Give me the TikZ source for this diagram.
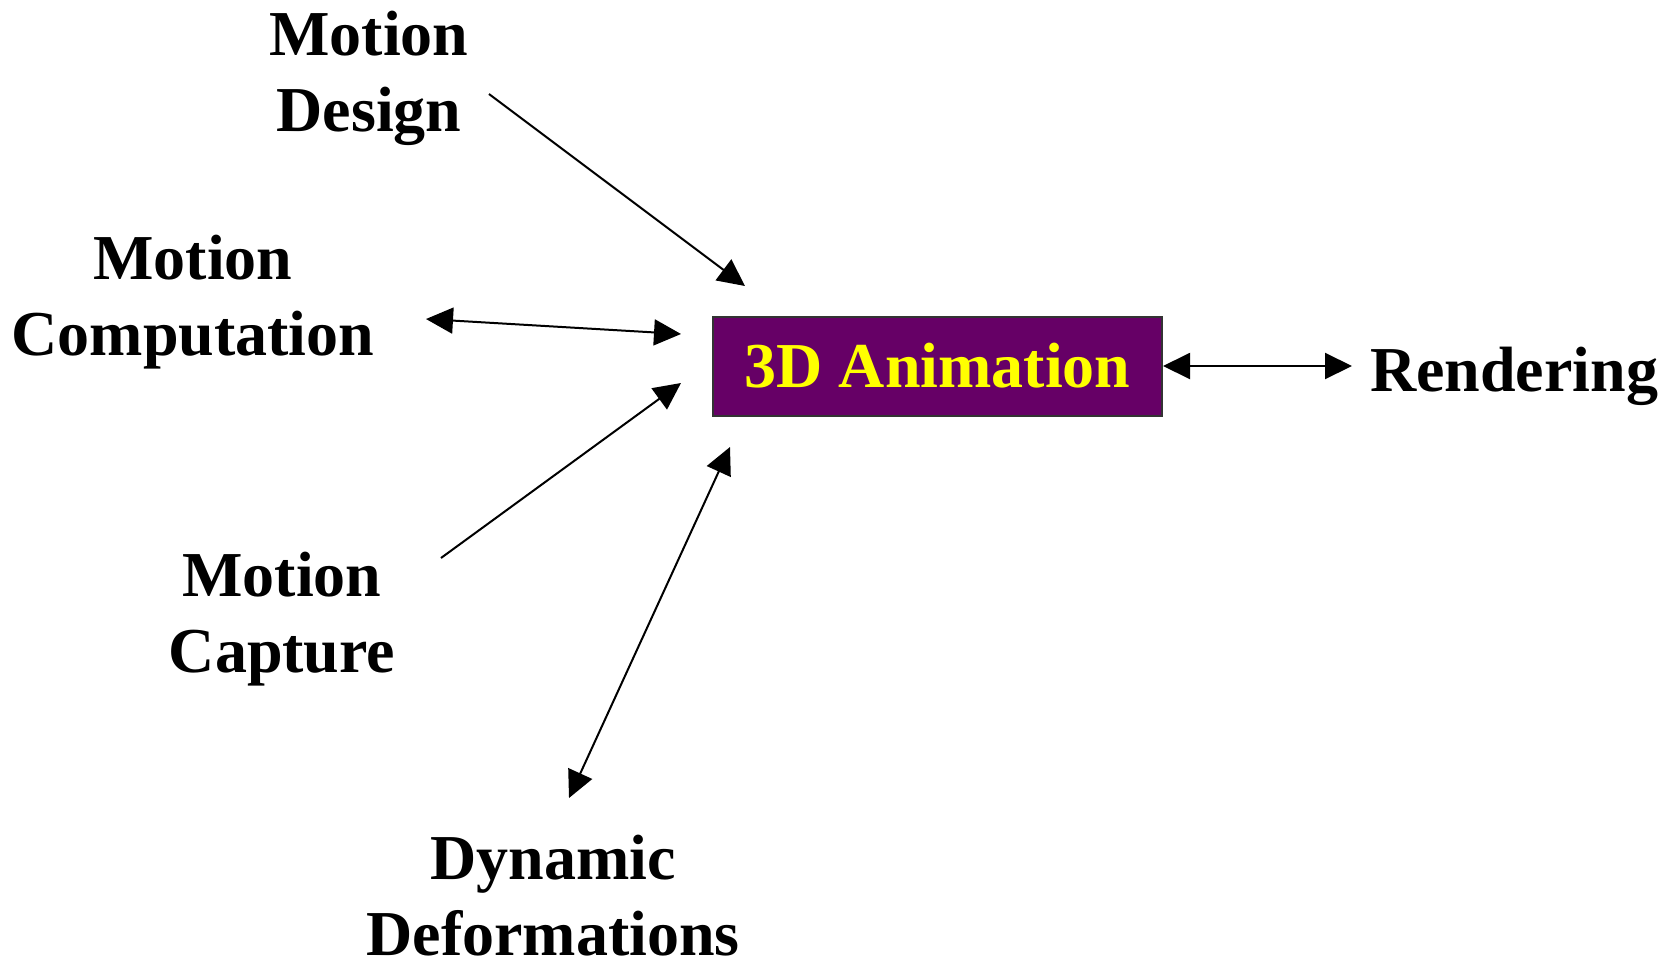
\documentclass[tikz,border=0pt]{standalone}
\usepackage{fontspec}
\setmainfont{Liberation Serif}
\usetikzlibrary{arrows.meta}
\definecolor{boxpurple}{HTML}{660066}
\definecolor{boxyellow}{HTML}{FFFF00}
\definecolor{boxedge}{HTML}{333333}
\tikzset{
  lbl/.style={inner sep=0pt, align=center, font=\bfseries\fontsize{64}{75.5}\selectfont, anchor=base},
  mainbox/.style={draw=boxedge, line width=2pt, fill=boxpurple, text=boxyellow, minimum width=449pt, minimum height=99pt, inner sep=0pt, font=\bfseries\fontsize{64}{75.5}\selectfont},
  conn/.style={line width=2pt, -{Triangle[length=27pt,width=26pt]}},
  bconn/.style={line width=2pt, {Triangle[length=27pt,width=26pt]}-{Triangle[length=27pt,width=26pt]}}
}
\begin{document}
\begin{tikzpicture}[x=1pt,y=-1pt]
\useasboundingbox (0,0) rectangle (1674,967);
\node[mainbox] (anim) at (937.5,366) {3D Animation};
\node[lbl] (design) at (369,131) {Motion\\Design};
\node[lbl] (comp) at (193,355) {Motion\\Computation};
\node[lbl] (capt) at (282,672) {Motion\\Capture};
\node[lbl] (dyn) at (553,955) {Dynamic\\Deformations};
\node[lbl] (rend) at (1514,391) {Rendering};
\coordinate (d1) at (489,94);
\coordinate (d2) at (745,286);
\coordinate (c1) at (426,319);
\coordinate (c2) at (681,334);
\coordinate (p1) at (441,558);
\coordinate (p2) at (681,383);
\coordinate (y1) at (730,447);
\coordinate (y2) at (569,798);
\coordinate (r2) at (1352,366);
\draw[conn] (d1) -- (d2);
\draw[bconn] (c1) -- (c2);
\draw[conn] (p1) -- (p2);
\draw[bconn] (y1) -- (y2);
\draw[bconn] (anim.east |- r2) -- (r2);
\end{tikzpicture}
\end{document}
